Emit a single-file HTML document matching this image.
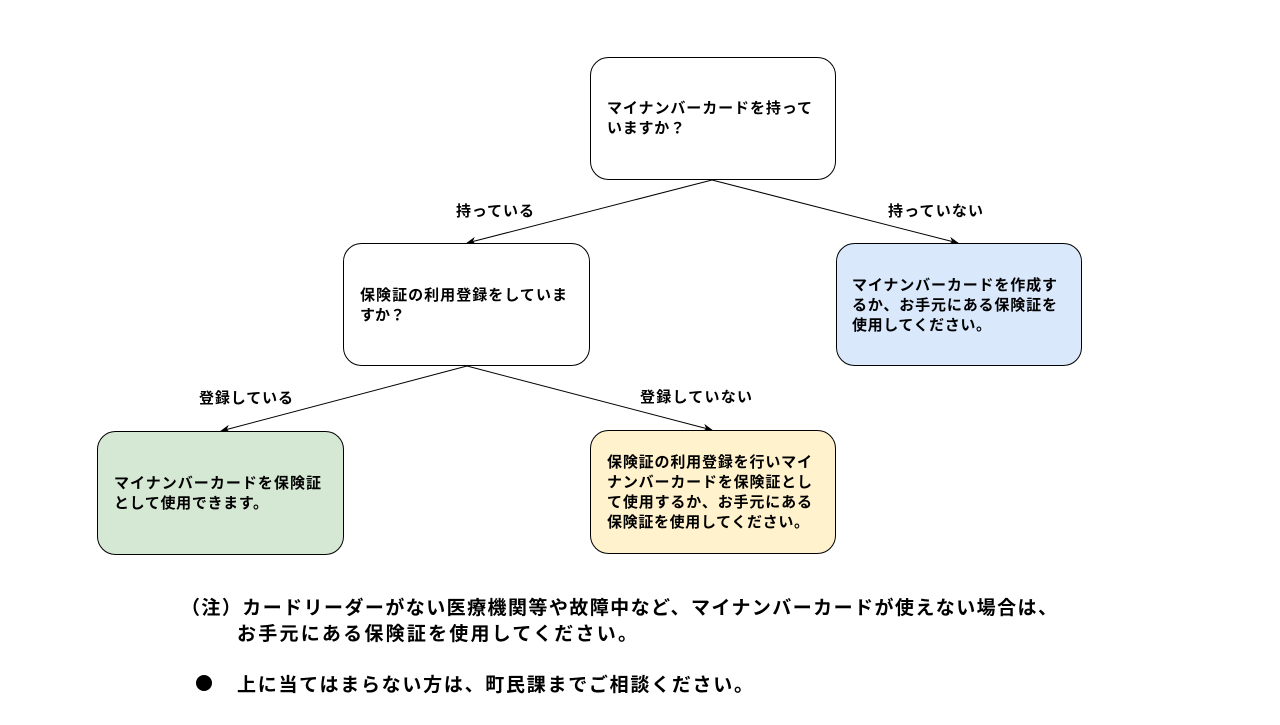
<!DOCTYPE html>
<html><head><meta charset="utf-8"><style>
html,body{margin:0;padding:0;background:#fff}
svg text{font-family:"Liberation Sans","Noto Sans CJK JP",sans-serif;fill:#000}
.n{font-size:15px;font-weight:bold}
.b{font-size:19px;font-weight:bold}
</style></head><body>
<svg width="1280" height="720" xmlns="http://www.w3.org/2000/svg">
<defs><marker id="a" markerWidth="10" markerHeight="8" refX="9" refY="4" orient="auto" markerUnits="userSpaceOnUse"><path d="M0,0 L10,4 L0,8 L3,4 Z" fill="#000"/></marker></defs>
<g stroke="#000" stroke-width="1" fill="none">
<line x1="712" y1="180" x2="467" y2="243" marker-end="url(#a)"/>
<line x1="712" y1="180" x2="958" y2="243" marker-end="url(#a)"/>
<line x1="467" y1="366" x2="221" y2="431" marker-end="url(#a)"/>
<line x1="467" y1="366" x2="712" y2="430" marker-end="url(#a)"/>
</g>
<g stroke="#000" stroke-width="1">
<rect x="590.5" y="57.5" width="245" height="122" rx="18" fill="#fff"/>
<rect x="343.5" y="243.5" width="246" height="122" rx="18" fill="#fff"/>
<rect x="836.5" y="243.5" width="245" height="122" rx="18" fill="#dae8fc"/>
<rect x="97.5" y="431.5" width="246" height="123" rx="18" fill="#d5e8d4"/>
<rect x="590.5" y="430.5" width="245" height="123" rx="18" fill="#fff2cc"/>
</g>
<g lengthAdjust="spacing">
<text class="n" x="607" y="113" textLength="205">マイナンバーカードを持って</text>
<text class="n" x="607" y="133" textLength="78">いますか？</text>
<text class="n" x="360" y="300" textLength="207">保険証の利用登録をしていま</text>
<text class="n" x="360" y="320" textLength="45">すか？</text>
<text class="n" x="852" y="290" textLength="205">マイナンバーカードを作成す</text>
<text class="n" x="852" y="310" textLength="205">るか、お手元にある保険証を</text>
<text class="n" x="852" y="330" textLength="139">使用してください。</text>
<text class="n" x="114" y="488" textLength="207">マイナンバーカードを保険証</text>
<text class="n" x="114" y="508" textLength="154">として使用できます。</text>
<text class="n" x="607" y="467" textLength="205">保険証の利用登録を行いマイ</text>
<text class="n" x="607" y="487" textLength="205">ナンバーカードを保険証とし</text>
<text class="n" x="607" y="507" textLength="205">て使用するか、お手元にある</text>
<text class="n" x="607" y="527" textLength="202">保険証を使用してください。</text>
<text class="n" x="456" y="216" textLength="78">持っている</text>
<text class="n" x="888" y="216" textLength="95">持っていない</text>
<text class="n" x="199" y="403" textLength="94">登録している</text>
<text class="n" x="640" y="402" textLength="112">登録していない</text>
<text class="b" x="181" y="614" textLength="876">（注）カードリーダーがない医療機関等や故障中など、マイナンバーカードが使えない場合は、</text>
<text class="b" x="237" y="640" textLength="400">お手元にある保険証を使用してください。</text>
<circle cx="204" cy="683" r="8" fill="#000"/>
<text class="b" x="237" y="691" textLength="516">上に当てはまらない方は、町民課までご相談ください。</text>
</g>
</svg>
</body></html>
